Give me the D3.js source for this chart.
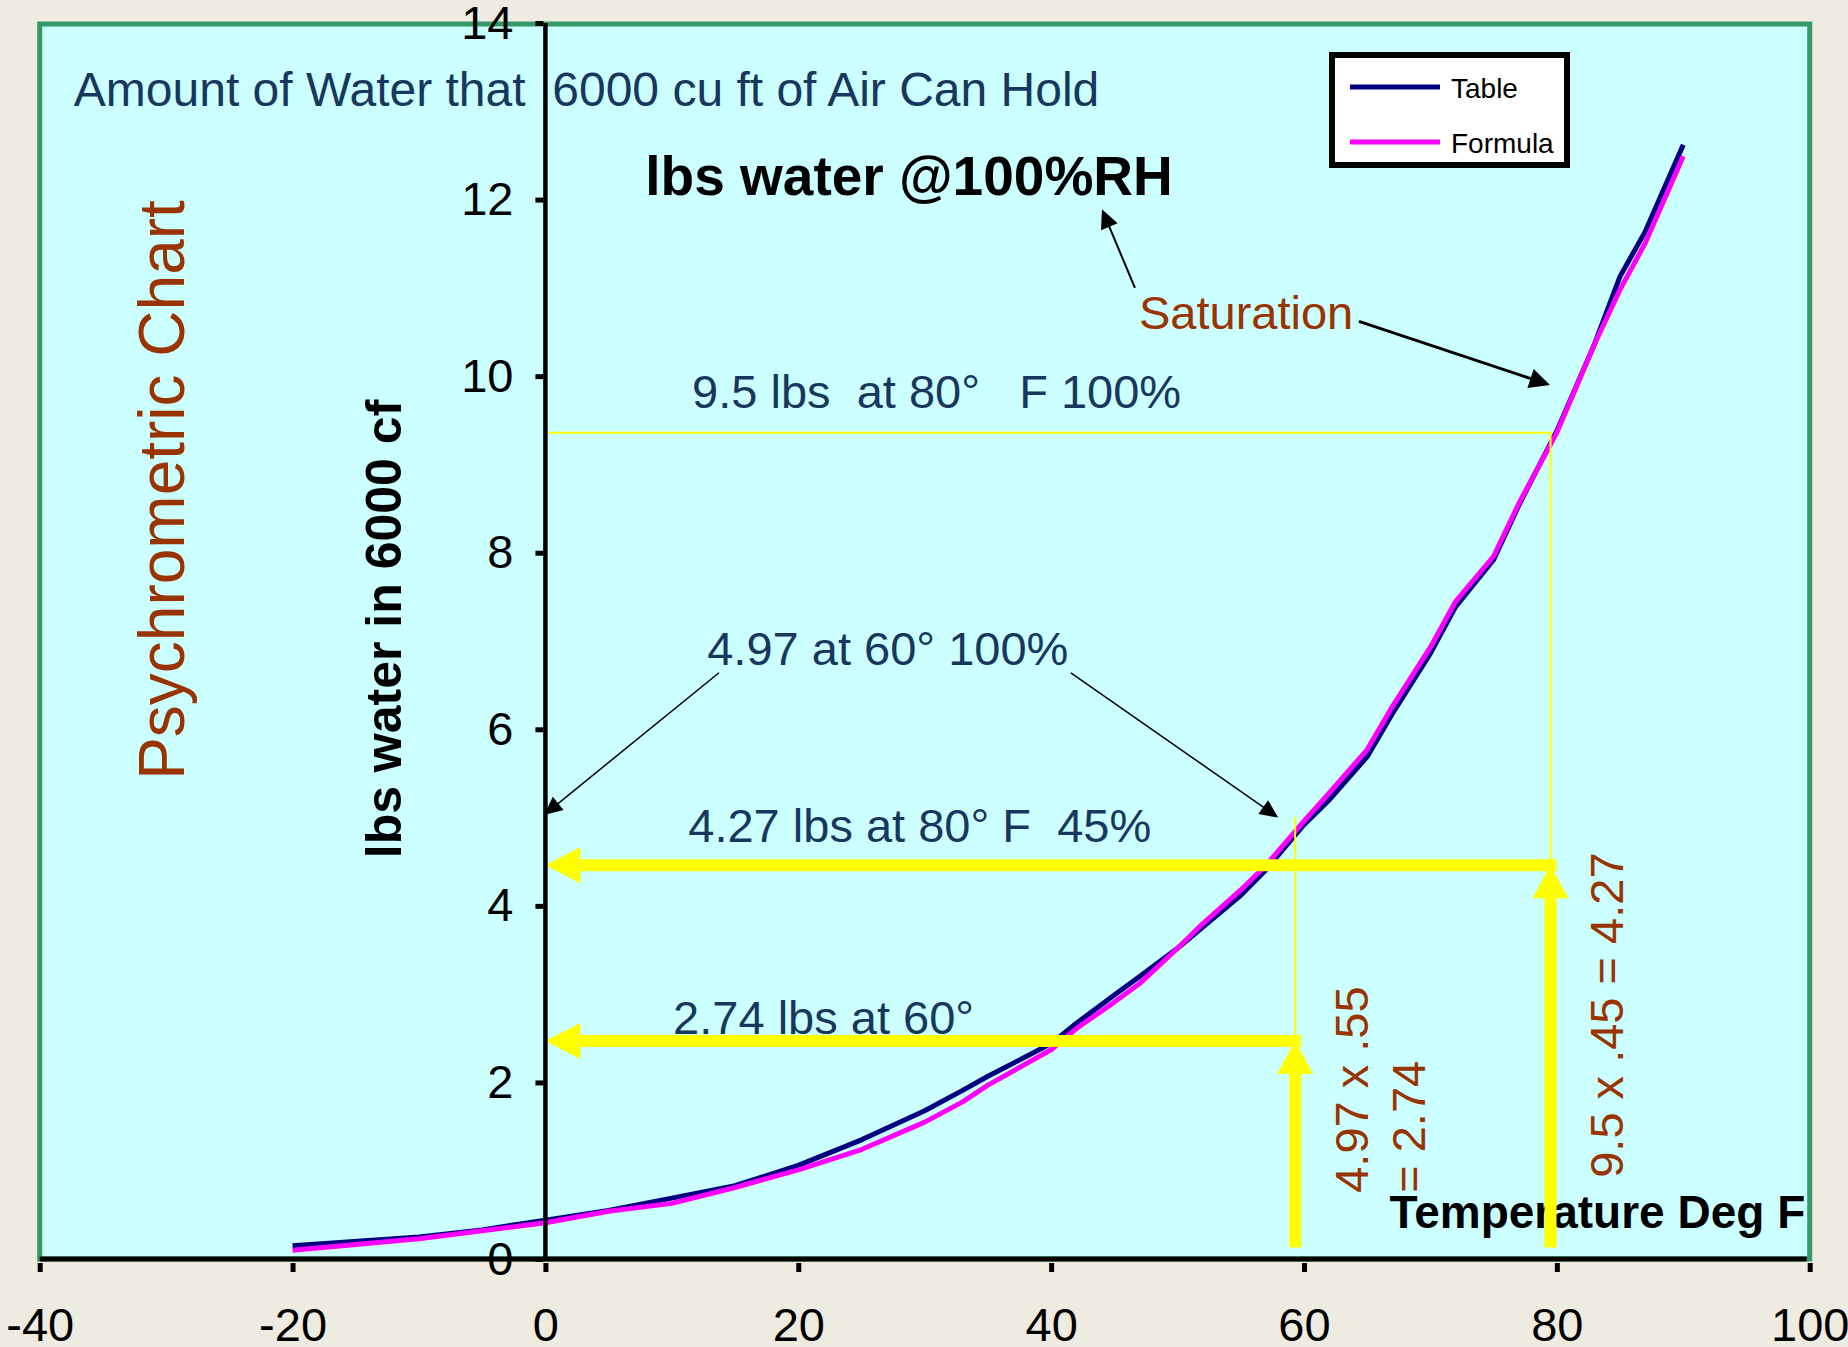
<!DOCTYPE html>
<html>
<head>
<meta charset="utf-8">
<script src="https://cdn.jsdelivr.net/npm/d3@7"></script>
<style>
body { margin: 0; background: #eeebe0; }
svg { display: block; }
text { font-family: "Liberation Sans", Arial, sans-serif; white-space: pre; }
.tick text { font-family: "Liberation Sans Narrow", "Liberation Sans", Arial, sans-serif; }
</style>
</head>
<body>
<script>
//////////////////////////////////////////////////////////////////////////////
// Data

var tempF      = [-20, -10, -5, 0, 5, 10, 15, 20, 25, 30, 33, 35, 40, 42, 45, 47, 50, 52, 55, 57, 60, 62, 65, 67, 70, 72, 75, 77, 80, 83, 85, 87, 90];
var lbsTable   = [0.15, 0.25, 0.33, 0.44, 0.55, 0.69, 0.83, 1.06, 1.35, 1.68, 1.91, 2.07, 2.44, 2.67, 2.99, 3.20, 3.52, 3.76, 4.12, 4.41, 4.92, 5.20, 5.69, 6.18, 6.86, 7.39, 7.92, 8.54, 9.38, 10.37, 11.13, 11.64, 12.62];
var lbsFormula = [0.10, 0.23, 0.32, 0.41, 0.54, 0.63, 0.81, 1.01, 1.24, 1.55, 1.78, 1.97, 2.37, 2.61, 2.91, 3.12, 3.52, 3.80, 4.18, 4.46, 4.96, 5.28, 5.77, 6.26, 6.93, 7.45, 7.96, 8.56, 9.36, 10.37, 10.98, 11.51, 12.49];

var seriesNames  = ["Table", "Formula"];
var seriesColors = ["#000080", "#ff00ff"];

var xTicks = [-40, -20, 0, 20, 40, 60, 80, 100];
var yTicks = [0, 2, 4, 6, 8, 10, 12, 14];

// where the drawn-in guides sit (temperature, lbs)
var sat80 = [79.5, 9.36];
var sat60 = [59.3, 5.0];
var lbs45 = 4.46;
var lbs55 = 2.47;
var arrowFoot = 0.13;

// pointer arrows [fromT, fromLbs, toT, toLbs, width]
var pointers = [
    [46.63, 11.0, 44.02, 11.89, 2],
    [64.35, 10.62, 79.46, 9.90, 3],
    [13.73, 6.64, -0.11, 5.03, 1.5],
    [41.56, 6.64, 57.96, 5.0, 1.5]
];

// annotations [text, T, lbs]
var notes = [
    ["Amount of Water that  6000 cu ft of Air Can Hold", -37.3, 13.06, 48],
    ["9.5 lbs  at 80°   F 100%", 11.6, 9.64, 47],
    ["4.97 at 60° 100%", 12.8, 6.73, 47],
    ["4.27 lbs at 80° F  45%", 11.3, 4.72, 47],
    ["2.74 lbs at 60°", 10.1, 2.55, 47]
];

//////////////////////////////////////////////////////////////////////////////

var svg = d3.select("body").append("svg")
    .attr("width", 1848)
    .attr("height", 1347);

var x = d3.scaleLinear().domain([-40, 100]).range([39.7, 1809.7]);
var y = d3.scaleLinear().domain([0, 14]).range([1259, 23]);

// plot panel
svg.append("rect")
    .attr("x", x(-40))
    .attr("y", y(14) + 1)
    .attr("width", x(100) - x(-40))
    .attr("height", y(0) - y(14) - 1)
    .attr("fill", "#ccffff")
    .attr("stroke", "#339966")
    .attr("stroke-width", 5);

// texts behind the marks
svg.selectAll("text.note")
    .data(notes)
    .enter()
    .append("text")
    .attr("class", "note")
    .attr("x", function(d) { return x(d[1]); })
    .attr("y", function(d) { return y(d[2]); })
    .attr("font-size", function(d) { return d[3]; })
    .attr("fill", "#17375e")
    .text(function(d) { return d[0]; });

svg.append("text")
    .attr("x", x(7.9))
    .attr("y", y(12.05))
    .attr("font-size", 55)
    .attr("font-weight", "bold")
    .text("lbs water @100%RH");

svg.append("text")
    .attr("x", x(46.95))
    .attr("y", y(10.53))
    .attr("font-size", 47)
    .attr("fill", "#993300")
    .text("Saturation");

svg.append("text")
    .attr("transform", "translate(184,490) rotate(-90)")
    .attr("text-anchor", "middle")
    .attr("font-size", 64)
    .attr("fill", "#993300")
    .text("Psychrometric Chart");

svg.append("text")
    .attr("transform", "translate(401,629) rotate(-90)")
    .attr("text-anchor", "middle")
    .attr("font-size", 50)
    .attr("font-weight", "bold")
    .text("lbs water in 6000 cf");

svg.append("text")
    .attr("x", x(99.65))
    .attr("y", y(0.35))
    .attr("text-anchor", "end")
    .attr("font-size", 46)
    .attr("font-weight", "bold")
    .text("Temperature Deg F");

var calc1 = svg.append("text")
    .attr("transform", "translate(" + x(65.05) + "," + y(0.75) + ") rotate(-90)")
    .attr("font-size", 47)
    .attr("fill", "#993300");
calc1.append("tspan").attr("x", 0).attr("dy", 0).text("4.97 x .55");
calc1.append("tspan").attr("x", 0).attr("dy", 57).text("= 2.74");

svg.append("text")
    .attr("transform", "translate(" + x(85.25) + "," + y(0.92) + ") rotate(-90)")
    .attr("font-size", 47)
    .attr("fill", "#993300")
    .text("9.5 x .45 = 4.27");

// curves
var series = [
    tempF.map(function(t, i) { return [t, lbsTable[i]]; }),
    tempF.map(function(t, i) { return [t, lbsFormula[i]]; })
];

var line = d3.line()
    .x(function(d) { return x(d[0]); })
    .y(function(d) { return y(d[1]); });

svg.append("g")
    .selectAll("path")
    .data(series)
    .enter()
    .append("path")
    .attr("d", line)
    .attr("fill", "none")
    .attr("stroke", function(d, i) { return seriesColors[i]; })
    .attr("stroke-width", 5)
    .attr("stroke-linejoin", "round");

// arrows
function arrow(g, x1, y1, x2, y2, w, headLen, headHalf, color)
{
    var dx = x2 - x1, dy = y2 - y1;
    var len = Math.sqrt(dx * dx + dy * dy);
    var ux = dx / len, uy = dy / len;
    var bx = x2 - ux * headLen, by = y2 - uy * headLen;
    g.append("line")
        .attr("x1", x1).attr("y1", y1)
        .attr("x2", bx + ux).attr("y2", by + uy)
        .attr("stroke", color)
        .attr("stroke-width", w);
    g.append("path")
        .attr("d", "M" + x2 + "," + y2 +
                   "L" + (bx - uy * headHalf) + "," + (by + ux * headHalf) +
                   "L" + (bx + uy * headHalf) + "," + (by - ux * headHalf) + "Z")
        .attr("fill", color);
}

var yellow = svg.append("g");

yellow.append("polyline")
    .attr("points", [[x(0), y(sat80[1])], [x(sat80[0]), y(sat80[1])], [x(sat80[0]), y(lbs45)]].join(" "))
    .attr("fill", "none")
    .attr("stroke", "#ffff00")
    .attr("stroke-width", 2);

yellow.append("line")
    .attr("x1", x(sat60[0])).attr("y1", y(sat60[1]))
    .attr("x2", x(sat60[0])).attr("y2", y(lbs55))
    .attr("stroke", "#ffff00")
    .attr("stroke-width", 2);

arrow(yellow, x(sat80[0]) + 6, y(lbs45), x(0), y(lbs45), 12, 35, 18, "#ffff00");
arrow(yellow, x(sat60[0]) + 6, y(lbs55), x(0), y(lbs55), 12, 35, 18, "#ffff00");
arrow(yellow, x(sat80[0]), y(arrowFoot), x(sat80[0]), y(lbs45), 12, 33, 18, "#ffff00");
arrow(yellow, x(sat60[0]), y(arrowFoot), x(sat60[0]), y(lbs55), 12, 33, 18, "#ffff00");

var pointerG = svg.append("g");
pointers.forEach(function(p) {
    arrow(pointerG, x(p[0]), y(p[1]), x(p[2]), y(p[3]), p[4], 16 + p[4] * 1.5, 7 + p[4], "#000");
});

// axes
svg.append("line")
    .attr("x1", x(0)).attr("y1", y(14))
    .attr("x2", x(0)).attr("y2", y(0))
    .attr("stroke", "#000")
    .attr("stroke-width", 4.5);

svg.append("line")
    .attr("x1", x(-40)).attr("y1", y(0))
    .attr("x2", x(100) - 3).attr("y2", y(0))
    .attr("stroke", "#000")
    .attr("stroke-width", 5);

var plainNum = function(d) { return String(d); };

var yAxis = svg.append("g")
    .attr("transform", "translate(" + x(0) + ",0)")
    .call(d3.axisLeft(y).tickValues(yTicks).tickFormat(plainNum).tickSize(10).tickPadding(22));

var xAxis = svg.append("g")
    .attr("transform", "translate(0," + y(0) + ")")
    .call(d3.axisBottom(x).tickValues(xTicks).tickFormat(plainNum).tickSize(13).tickPadding(36));

[yAxis, xAxis].forEach(function(a) {
    a.select(".domain").remove();
    a.selectAll(".tick line").attr("stroke", "#000").attr("stroke-width", 5);
    a.selectAll(".tick text")
        .attr("fill", "#000")
        .attr("font-size", 47)
        .attr("font-family", null);
});
yAxis.selectAll(".tick line").attr("x1", -2);
xAxis.selectAll(".tick line").attr("y1", 4);

// legend
var legend = svg.append("g");

legend.append("rect")
    .attr("x", 1332)
    .attr("y", 55)
    .attr("width", 235)
    .attr("height", 110)
    .attr("fill", "#fff")
    .attr("stroke", "#000")
    .attr("stroke-width", 6);

var item = legend.selectAll("g")
    .data(seriesNames)
    .enter()
    .append("g")
    .attr("transform", function(d, i) { return "translate(1350," + (87 + i * 55) + ")"; });

item.append("line")
    .attr("x1", 0).attr("x2", 90)
    .attr("stroke", function(d, i) { return seriesColors[i]; })
    .attr("stroke-width", 5);

item.append("text")
    .attr("x", 101)
    .attr("y", 11)
    .attr("font-size", 28)
    .text(function(d) { return d; });
</script>
</body>
</html>
